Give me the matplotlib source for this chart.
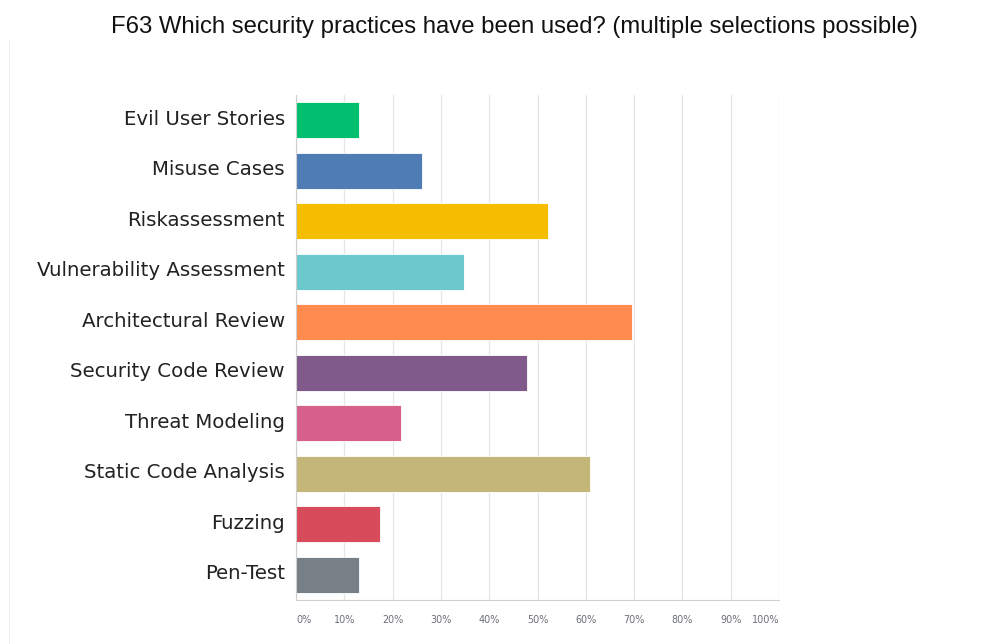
import matplotlib
matplotlib.use("Agg")
import matplotlib.pyplot as plt
from matplotlib import font_manager
from matplotlib.lines import Line2D
from matplotlib.transforms import ScaledTranslation

categories = [
    "Evil User Stories",
    "Misuse Cases",
    "Riskassessment",
    "Vulnerability Assessment",
    "Architectural Review",
    "Security Code Review",
    "Threat Modeling",
    "Static Code Analysis",
    "Fuzzing",
    "Pen-Test",
]
percent = [13.04, 26.09, 52.17, 34.78, 69.57, 47.83, 21.74, 60.87, 17.39, 13.04]
colors = ["#00BF6F", "#507CB6", "#F5BE00", "#6BC8CD", "#FF8B4F",
          "#7F5A8A", "#D5608A", "#C4B578", "#D84B5A", "#768086"]
tick_values = [0, 10, 20, 30, 40, 50, 60, 70, 80, 90, 100]
tick_labels = [f"{v}%" for v in tick_values]
title = "F63 Which security practices have been used? (multiple selections possible)"

names = {f.name for f in font_manager.fontManager.ttflist}
title_font = "Liberation Sans Narrow" if "Liberation Sans Narrow" in names else "Liberation Sans"

W, H = 995, 644
fig = plt.figure(figsize=(W / 100, H / 100), dpi=100)
left, right, top, bottom = 296, 779, 95, 600
ax = fig.add_axes([left / W, 1 - bottom / H, (right - left) / W, (bottom - top) / H])

y = list(range(len(categories)))
ax.barh(y, percent, height=0.72, color=colors, edgecolor="white", linewidth=0.6, zorder=3)
ax.set_ylim(len(categories) - 0.5, -0.5)
ax.set_xlim(0, 100)

ax.set_yticks(y)
ax.set_yticklabels(categories, fontsize=14.2, color="#222222", family="DejaVu Sans")
ax.tick_params(axis="y", length=0, pad=8)
lift = ScaledTranslation(0, 3 / 100, fig.dpi_scale_trans)
for lbl in ax.get_yticklabels():
    lbl.set_transform(lbl.get_transform() + lift)

ax.set_xticks(tick_values)
ax.set_xticklabels(tick_labels, fontsize=6.9, color="#6b6f75", family="DejaVu Sans")
ax.tick_params(axis="x", length=0, pad=11)
xt = ax.get_xticklabels()
xt[0].set_horizontalalignment("left")
xt[-1].set_horizontalalignment("right")

ax.grid(axis="x", color="#e6e6e6", linewidth=0.9, zorder=0)
for s in ["top", "right"]:
    ax.spines[s].set_visible(False)
ax.spines["left"].set_color("#cfcfcf")
ax.spines["bottom"].set_color("#cfcfcf")
ax.spines["left"].set_zorder(4)

fig.text(514 / W, 1 - 27 / H, title, ha="center", va="center",
         fontsize=17.2, family=title_font, color="#111111")

# faint panel border on the left
fig.add_artist(Line2D([8.5 / W, 8.5 / W], [0, 1 - 40 / H], transform=fig.transFigure,
                      color="#eeeeee", linewidth=0.8))

fig.savefig("out.png", dpi=100, facecolor="white")
